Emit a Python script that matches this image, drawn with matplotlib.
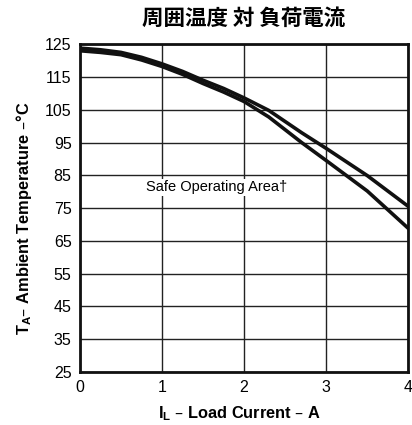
import matplotlib
matplotlib.use("Agg")
import matplotlib.pyplot as plt

plt.rcParams['font.family'] = ['Liberation Sans', 'Noto Sans CJK JP', 'DejaVu Sans']

# derating curves
current = [0, 0.25, 0.5, 0.75, 1.0, 1.25, 1.5, 1.75, 2.0, 2.3, 2.7, 3.0, 3.5, 4.0]
temp_upper = [123.8, 123.3, 122.5, 121.0, 119.0, 116.7, 114.0, 111.5, 108.6, 104.8, 98.0, 93.2, 84.9, 75.5]
temp_lower = [123.0, 122.5, 121.8, 120.2, 118.2, 115.8, 113.0, 110.4, 107.5, 102.8, 95.0, 89.5, 80.2, 68.8]

x_ticks = [0, 1, 2, 3, 4]
y_ticks = [25, 35, 45, 55, 65, 75, 85, 95, 105, 115, 125]

fig = plt.figure(figsize=(4.12, 4.25), dpi=100)
ax = fig.add_axes([0.194, 0.125, 0.797, 0.771])

ax.plot(current, temp_upper, color="#111111", lw=2.6, solid_joinstyle="round")
ax.plot(current, temp_lower, color="#111111", lw=2.6, solid_joinstyle="round")

ax.set_xlim(0, 4)
ax.set_ylim(25, 125)
ax.set_xticks(x_ticks)
ax.set_yticks(y_ticks)
ax.grid(True, color="#222222", lw=1.0)
ax.tick_params(length=0, labelsize=11.5, pad=6)
for s in ax.spines.values():
    s.set_linewidth(2.0)
    s.set_color("#111111")

ax.text(0.8, 81.3, "Safe Operating Area\u2020", fontsize=10.5, va="center", ha="left",
        bbox=dict(facecolor="white", edgecolor="none", pad=1))

ax.set_xlabel(r"I$_\mathregular{L}$ – Load Current – A", fontsize=11.8, fontweight="bold")
ax.set_ylabel(r"T$_\mathregular{A}$– Ambient Temperature –°C", fontsize=11.8, fontweight="bold")
ax.xaxis.set_label_coords(0.485, -0.098)
ax.yaxis.set_label_coords(-0.14, 0.47)
fig.text(0.592, 0.958, "周囲温度 対 負荷電流", ha="center", va="center",
         fontsize=15.5, fontweight="bold", family=['Noto Sans CJK JP', 'DejaVu Sans'])

fig.savefig("out.png", dpi=100)
